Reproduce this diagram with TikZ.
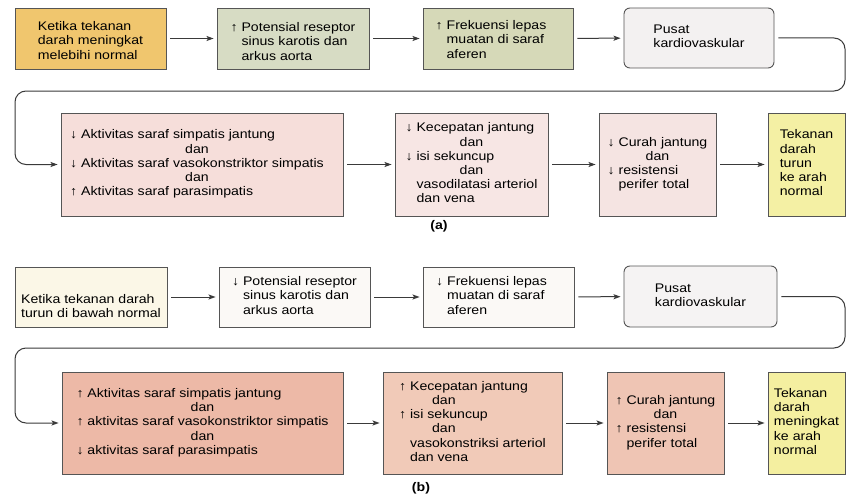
\documentclass[tikz,border=0pt]{standalone}
\usepackage{fontspec}
\setmainfont{Liberation Sans}[FakeStretch=1.13]
\usetikzlibrary{arrows.meta}
\definecolor{bordc}{HTML}{555555}
\definecolor{connc}{HTML}{3A3A3A}
\definecolor{cAa}{HTML}{F0C66E}
\definecolor{cAb}{HTML}{D7DCC4}
\definecolor{cAc}{HTML}{D6D9B8}
\definecolor{cAd}{HTML}{F3F1F1}
\definecolor{cBa}{HTML}{F6DEDA}
\definecolor{cBb}{HTML}{F7E6E4}
\definecolor{cBc}{HTML}{F5E4E2}
\definecolor{cBd}{HTML}{F4F0A4}
\definecolor{cCa}{HTML}{FBF7E7}
\definecolor{cCb}{HTML}{FBF9F6}
\definecolor{cCd}{HTML}{F5F3F3}
\definecolor{cDa}{HTML}{EDB9A7}
\definecolor{cDb}{HTML}{F1CAB8}
\definecolor{cDc}{HTML}{EFC5B4}
\definecolor{cDd}{HTML}{F4EFA0}
\newcommand{\hng}{\phantom{↑}\ }
\newcommand{\cdan}{\multicolumn{1}{@{}c@{}}{dan}}
\newcommand{\tdn}[2]{\raisebox{0pt}[\dimexpr\height+#1\relax][\depth]{#2}}
\tikzset{
  box/.style={draw=bordc, line width=0.9pt, inner sep=0pt,
    font=\fontsize{12.5}{14.2}\selectfont},
  conn/.style={draw=connc, line width=1pt, -{Stealth[length=7pt,width=5pt,inset=1.5pt]},
    shorten <=4pt, shorten >=3pt},
  feed/.style={conn, rounded corners=11pt},
  lab/.style={font=\fontsize{12.5}{14}\selectfont\bfseries, inner sep=0pt}
}
\begin{document}
\begin{tikzpicture}[x=1pt,y=-1pt]
\fill[white] (0,0) rectangle (846,495);
\useasboundingbox (0,0) rectangle (846,495);

% ---------- (a) ----------
\node[box, fill=cAa, minimum width=151pt, minimum height=61pt] (A1) at (90.5,38.5)
  {\tdn{7pt}{\begin{tabular}{@{}l@{}}Ketika tekanan\\ darah meningkat\\ melebihi normal\end{tabular}}};
\node[box, fill=cAb, minimum width=152pt, minimum height=61pt] (A2) at (293,38.5)
  {\tdn{9pt}{\begin{tabular}{@{}l@{}}↑ Potensial reseptor\\ \hng sinus karotis dan\\ \hng arkus aorta\end{tabular}}};
\node[box, fill=cAc, minimum width=150pt, minimum height=61pt] (A3) at (498,38.5)
  {\tdn{5pt}{\begin{tabular}{@{}l@{}}↑ Frekuensi lepas\\ \hng muatan di saraf\\ \hng aferen\end{tabular}}\hspace*{14pt}};
\node[box, fill=cAd, rounded corners=6pt, minimum width=150pt, minimum height=60pt] (A4) at (699,38)
  {\begin{tabular}{@{}l@{}}Pusat\\ kardiovaskular\end{tabular}};

\node[box, fill=cBa, minimum width=282pt, minimum height=103pt] (B1) at (202,164.5)
  {\begin{tabular}{@{}l@{}}↓ Aktivitas saraf simpatis jantung\\ \cdan\\ ↓ Aktivitas saraf vasokonstriktor simpatis\\ \cdan\\ ↑ Aktivitas saraf parasimpatis\end{tabular}\hspace*{10pt}};
\node[box, fill=cBb, minimum width=153pt, minimum height=103pt] (B2) at (471.5,164.5)
  {\begin{tabular}{@{}l@{}}↓ Kecepatan jantung\\ \cdan\\ ↓ isi sekuncup\\ \cdan\\ \hng vasodilatasi arteriol\\ \hng dan vena\end{tabular}};
\node[box, fill=cBc, minimum width=117pt, minimum height=103pt] (B3) at (657.5,164.5)
  {\begin{tabular}{@{}l@{}}↓ Curah jantung\\ \cdan\\ ↓ resistensi\\ \hng perifer total\end{tabular}};
\node[box, fill=cBd, minimum width=77pt, minimum height=103pt] (B4) at (806.5,164.5)
  {\begin{tabular}{@{}l@{}}Tekanan\\ darah\\ turun\\ ke arah\\ normal\end{tabular}};

\coordinate (fa1) at (845,38);
\coordinate (fa2) at (845,91);
\coordinate (fa3) at (15,91);
\coordinate (fa4) at (15,164.5);

\draw[conn] (A1) -- (A2);
\draw[conn] (A2) -- (A3);
\draw[conn] (A3) -- (A4);
\draw[feed] (A4.east) -- (fa1) -- (fa2) -- (fa3) -- (fa4) -- (B1.west);
\draw[conn] (B1) -- (B2);
\draw[conn] (B2) -- (B3);
\draw[conn] (B3) -- (B4);
\node[lab] (la) at (439,226) {(a)};

% ---------- (b) ----------
\node[box, fill=cCa, minimum width=152pt, minimum height=60pt] (C1) at (91,297)
  {\tdn{22pt}{\begin{tabular}{@{}l@{}}Ketika tekanan darah\\ turun di bawah normal\end{tabular}}};
\node[box, fill=cCb, minimum width=151pt, minimum height=60pt] (C2) at (294.5,297)
  {\begin{tabular}{@{}l@{}}↓ Potensial reseptor\\ \hng sinus karotis dan\\ \hng arkus aorta\end{tabular}};
\node[box, fill=cCb, minimum width=151pt, minimum height=60pt] (C3) at (498.5,297)
  {\begin{tabular}{@{}l@{}}↓ Frekuensi lepas\\ \hng muatan di saraf\\ \hng aferen\end{tabular}\hspace*{14pt}};
\node[box, fill=cCd, rounded corners=6pt, minimum width=153pt, minimum height=61pt] (C4) at (700.5,296.5)
  {\begin{tabular}{@{}l@{}}Pusat\\ kardiovaskular\end{tabular}};

\node[box, fill=cDa, minimum width=281pt, minimum height=102pt] (D1) at (202.5,423)
  {\begin{tabular}{@{}l@{}}↑ Aktivitas saraf simpatis jantung\\ \cdan\\ ↑ aktivitas saraf vasokonstriktor simpatis\\ \cdan\\ ↓ aktivitas saraf parasimpatis\end{tabular}};
\node[box, fill=cDb, minimum width=179pt, minimum height=102pt] (D2) at (472.5,423)
  {\begin{tabular}{@{}l@{}}↑ Kecepatan jantung\\ \multicolumn{1}{@{}l@{}}{\hspace*{33pt}dan}\\ ↑ isi sekuncup\\ \multicolumn{1}{@{}l@{}}{\hspace*{33pt}dan}\\ \hng vasokonstriksi arteriol\\ \hng dan vena\end{tabular}};
\node[box, fill=cDc, minimum width=117pt, minimum height=102pt] (D3) at (665.5,423)
  {\begin{tabular}{@{}l@{}}↑ Curah jantung\\ \cdan\\ ↑ resistensi\\ \hng perifer total\end{tabular}};
\node[box, fill=cDd, minimum width=77pt, minimum height=102pt] (D4) at (806.5,423)
  {\begin{tabular}{@{}l@{}}Tekanan\\ darah\\ meningkat\\ ke arah\\ normal\end{tabular}};

\coordinate (fb1) at (845,296.5);
\coordinate (fb2) at (845,348);
\coordinate (fb3) at (15,348);
\coordinate (fb4) at (15,423);

\draw[conn] (C1) -- (C2);
\draw[conn] (C2) -- (C3);
\draw[conn] (C3) -- (C4);
\draw[feed] (C4.east) -- (fb1) -- (fb2) -- (fb3) -- (fb4) -- (D1.west);
\draw[conn] (D1) -- (D2);
\draw[conn] (D2) -- (D3);
\draw[conn] (D3) -- (D4);
\node[lab] (lb) at (421,488) {(b)};
\end{tikzpicture}
\end{document}
